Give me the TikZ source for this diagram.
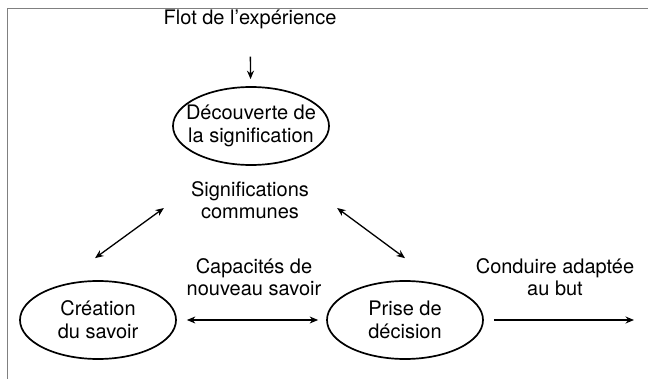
\documentclass[tikz,border=0pt]{standalone}
\usepackage{fontspec}
\setmainfont{TeX Gyre Heros}
\usetikzlibrary{arrows.meta,positioning,shapes.geometric}
\tikzset{
    %Define standard arrow tip
    >={Stealth[length=8.5pt,width=7pt]},
    %Define style for the bubbles
    bulle/.style={
           ellipse,
           draw=black, line width=1.7pt,
           minimum width=156pt,
           minimum height=78pt,
           inner xsep=-14pt, inner ysep=0pt,
           align=center,
           execute at begin node=\rule{0pt}{28pt},
           font=\fontsize{20}{23}\selectfont},
    %Define style for free texts
    texte/.style={
           align=center,
           inner sep=0pt,
           font=\fontsize{20}{22.5}\selectfont},
    % Define arrow style
    fleche/.style={
           ->,
           line width=1.3pt}
}
\begin{document}
\begin{tikzpicture}[x=1pt,y=-1pt]
 \useasboundingbox (0,0) rectangle (648,379);
 % cadre
 \draw[black!50, line width=1.5pt] (7.5,379) -- (7.5,8.5) -- (648,8.5);

 \node[bulle] (decouverte) at (251,126) {D\'ecouverte de\\la signification};
 \node[bulle] (creation) at (98,320) {Cr\'eation\\du savoir};
 \node[bulle] (prise) at (405,320) {Prise de\\d\'ecision};

 \node[texte] (flot) at (250,19) {Flot de l'exp\'erience};
 \node[texte] (signif) at (250,200) {Significations\\communes};
 \node[texte] (capac) at (254,277) {Capacit\'es de\\nouveau savoir};
 \node[texte] (conduire) at (555,277) {Conduire adapt\'ee\\au but};
 \coordinate (sortie) at (634,320);

 \draw (flot) edge[fleche, shorten <=28pt, shorten >=7pt] (decouverte);
 \draw ([shift={(-27,8)}]signif.west) edge[fleche,<->] ([shift={(-3,-22)}]creation.north);
 \draw ([shift={(28,8)}]signif.east) edge[fleche,<->] ([shift={(0,-22)}]prise.north);
 \draw (creation) edge[fleche,<->, shorten <=10pt, shorten >=8pt] (prise);
 \draw (prise) edge[fleche, shorten <=10pt] (sortie);
\end{tikzpicture}
\end{document}
